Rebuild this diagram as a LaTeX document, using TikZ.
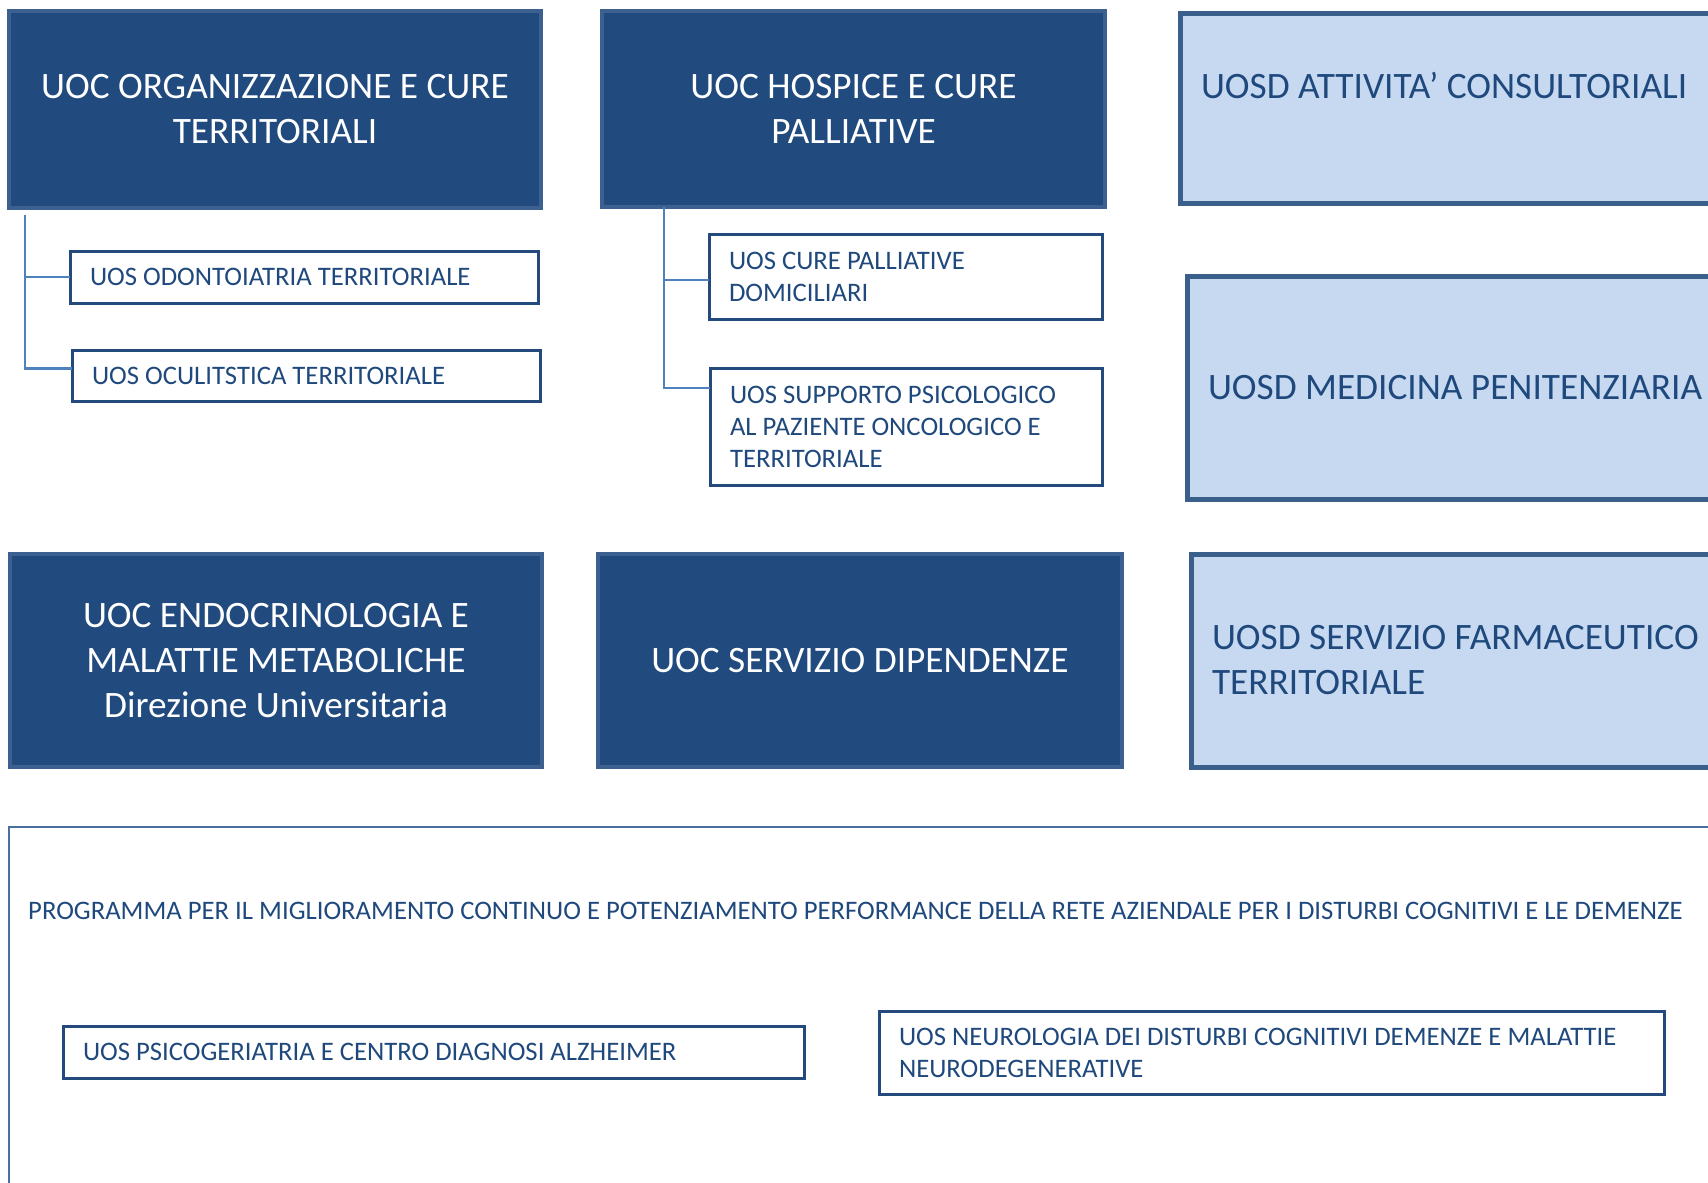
\documentclass[tikz,border=0pt]{standalone}
\usepackage{fontspec}
\setmainfont{Carlito}
\usetikzlibrary{positioning}

\definecolor{uocfill}{HTML}{214A7E}
\definecolor{uocline}{HTML}{3C6090}
\definecolor{uosdfill}{HTML}{C6D9F1}
\definecolor{uosdline}{HTML}{3A5F8B}
\definecolor{uosline}{HTML}{244A7D}
\definecolor{navy}{HTML}{1F497D}
\definecolor{branchcol}{HTML}{4F81BD}
\definecolor{progline}{HTML}{4A6E9E}

\tikzset{
  uocbox/.style={draw=uocline, fill=uocfill, line width=4pt, text=white,
    font=\fontsize{37.3}{45}\selectfont, align=center, inner sep=0pt,
    outer sep=0pt, anchor=north west},
  uosdbox/.style={draw=uosdline, fill=uosdfill, line width=5pt, text=navy,
    font=\fontsize{37.3}{45}\selectfont, align=flush left, inner xsep=21pt,
    inner ysep=0pt, outer sep=0pt, anchor=north west},
  uosbox/.style={draw=uosline, fill=white, line width=3pt, text=navy,
    font=\fontsize{26.7}{32}\selectfont, align=flush left, inner xsep=20pt,
    inner ysep=0pt, outer sep=0pt, anchor=north west},
  progbox/.style={draw=progline, line width=2.5pt, inner sep=0pt,
    outer sep=0pt, anchor=north west},
  progtext/.style={text=navy, font=\fontsize{26.7}{32}\selectfont,
    inner sep=0pt, anchor=west},
  branch/.style={draw=branchcol, line width=2.5pt},
}

\begin{document}
\begin{tikzpicture}[x=1pt, y=-1pt]
  \useasboundingbox (0,0) rectangle (1708,1183);
  \clip (0,0) rectangle (1708,1183);

  % top row
  \node[uocbox, minimum width=532, minimum height=197] (orgcure) at (9,11)
    {UOC ORGANIZZAZIONE E CURE\\TERRITORIALI};
  \node[uocbox, minimum width=503, minimum height=196] (hospice) at (602,11)
    {UOC HOSPICE E CURE\\PALLIATIVE};
  \node[uosdbox, text width=558, minimum height=190] (consult) at (1180,13)
    {UOSD ATTIVITA’ CONSULTORIALI\\ \mbox{}};

  % sub units
  \node[uosbox, text width=428, minimum height=52] (odonto) at (70,251)
    {UOS ODONTOIATRIA TERRITORIALE};
  \node[uosbox, text width=428, minimum height=51] (oculi) at (72,350)
    {UOS OCULITSTICA TERRITORIALE};
  \node[uosbox, text width=353, minimum height=85] (cpdom) at (709,234)
    {UOS CURE PALLIATIVE\\DOMICILIARI};
  \node[uosbox, text width=352, minimum height=117] (supporto) at (710,368)
    {UOS SUPPORTO PSICOLOGICO\\AL PAZIENTE ONCOLOGICO E\\TERRITORIALE};
  \node[uosdbox, text width=558, minimum height=223] (peniten) at (1187,276)
    {UOSD MEDICINA PENITENZIARIA};

  % middle row
  \node[uocbox, minimum width=532, minimum height=213] (endocrino) at (10,554)
    {UOC ENDOCRINOLOGIA E\\MALATTIE METABOLICHE\\Direzione Universitaria};
  \node[uocbox, minimum width=524, minimum height=213] (dipend) at (598,554)
    {UOC SERVIZIO DIPENDENZE};
  \node[uosdbox, text width=558, minimum height=213] (farmac) at (1191,554)
    {UOSD SERVIZIO FARMACEUTICO\\TERRITORIALE};

  % programma
  \node[progbox, minimum width=1760, minimum height=420] (programma) at (9,827) {};
  \node[progtext] (progtitle) at (28,911)
    {PROGRAMMA PER IL MIGLIORAMENTO CONTINUO E POTENZIAMENTO PERFORMANCE DELLA RETE AZIENDALE PER I DISTURBI COGNITIVI E LE DEMENZE};
  \node[uosbox, text width=701, minimum height=52] (psicoger) at (63,1026)
    {UOS PSICOGERIATRIA E CENTRO DIAGNOSI ALZHEIMER};
  \node[uosbox, text width=745, minimum height=83] (neuro) at (879,1011)
    {UOS NEUROLOGIA DEI DISTURBI COGNITIVI DEMENZE E MALATTIE\\NEURODEGENERATIVE};

  % branches
  \coordinate (orgtop) at ([xshift=16pt, yshift=-7pt]orgcure.south west);
  \draw[branch] (orgtop) |- ([yshift=7pt]oculi.west);
  \draw[branch] (orgtop |- odonto.west) -- (odonto.west);
  \coordinate (hostop) at ([xshift=62pt]hospice.south west);
  \draw[branch] (hostop) |- ([yshift=-20pt]supporto.north west);
  \draw[branch] (hostop |- cpdom.west) ++(0,3.5) -- ([yshift=-3.5pt]cpdom.west);
\end{tikzpicture}
\end{document}
